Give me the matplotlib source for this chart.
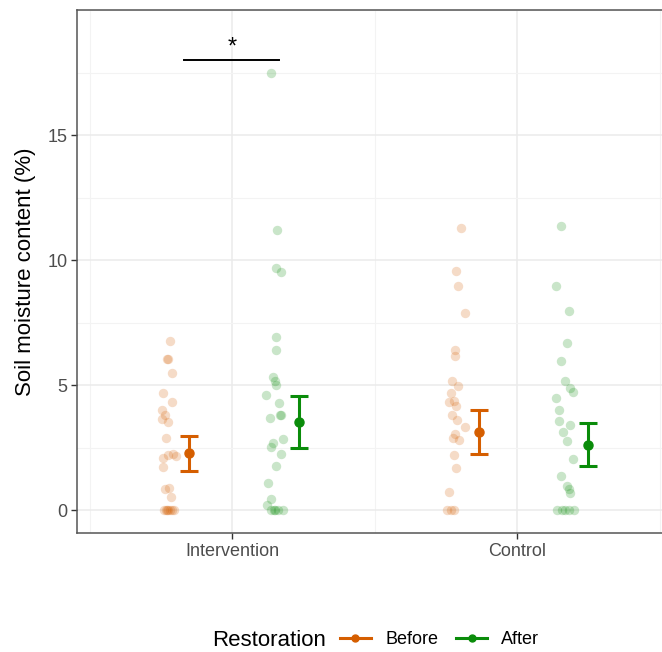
import matplotlib as mpl
mpl.use('Agg')
import matplotlib.pyplot as plt
from matplotlib.lines import Line2D
from matplotlib.ticker import MultipleLocator

plt.rcParams['font.family'] = ['Liberation Sans', 'DejaVu Sans']

# soil moisture (%) per plot, split by site and restoration period
int_before = [6.77, 6.05, 6.05, 5.51, 4.71, 4.33, 4.03, 3.80, 3.64, 3.53, 2.91, 2.23, 2.27,
              2.17, 2.09, 1.73, 0.87, 0.89, 0.53, 0, 0, 0, 0, 0, 0, 0]
int_after = [17.47, 11.20, 9.69, 9.53, 6.93, 6.43, 5.33, 5.16, 5.03, 4.60, 4.31, 3.71, 3.80,
             3.80, 2.84, 2.69, 2.53, 2.27, 1.76, 1.09, 0.47, 0.20, 0, 0, 0, 0, 0]
ctl_before = [11.29, 9.57, 8.97, 7.91, 6.40, 6.17, 5.17, 4.96, 4.69, 4.33, 4.37, 4.17, 3.80,
              3.63, 3.33, 3.07, 2.89, 2.80, 2.23, 1.69, 0.73, 0, 0, 0]
ctl_after = [11.37, 8.96, 7.96, 6.69, 5.96, 5.17, 4.89, 4.73, 4.51, 4.00, 3.57, 3.43, 3.13,
             2.77, 2.04, 1.37, 0.96, 0.85, 0.71, 0, 0, 0, 0, 0]

# horizontal jitter of each point (offset from the site position)
int_before_jit = [-0.218, -0.228, -0.226, -0.212, -0.241, -0.212, -0.245, -0.235, -0.245,
                  -0.224, -0.233, -0.224, -0.206, -0.196, -0.241, -0.241, -0.235, -0.221,
                  -0.214, -0.240, -0.233, -0.226, -0.219, -0.212, -0.204, -0.230]
int_after_jit = [0.136, 0.157, 0.154, 0.171, 0.154, 0.154, 0.143, 0.151, 0.154, 0.119, 0.166,
                 0.133, 0.171, 0.168, 0.178, 0.143, 0.136, 0.172, 0.153, 0.127, 0.136, 0.122,
                 0.136, 0.147, 0.161, 0.178, 0.150]
ctl_before_jit = [-0.198, -0.215, -0.209, -0.182, -0.218, -0.218, -0.229, -0.209, -0.233,
                  -0.241, -0.221, -0.214, -0.229, -0.212, -0.182, -0.218, -0.224, -0.204,
                  -0.221, -0.214, -0.239, -0.247, -0.233, -0.221]
ctl_after_jit = [0.153, 0.137, 0.180, 0.176, 0.154, 0.166, 0.184, 0.195, 0.136, 0.148, 0.147,
                 0.186, 0.162, 0.174, 0.195, 0.153, 0.174, 0.182, 0.186, 0.139, 0.157, 0.168,
                 0.180, 0.198]

# group means with error bar limits
means = [2.30, 3.55, 3.13, 2.63]
err_low = [1.58, 2.51, 2.25, 1.78]
err_high = [2.98, 4.58, 4.02, 3.49]

sites = ["Intervention", "Control"]
periods = ["Before", "After"]
y_ticks = [0, 5, 10, 15]
sig_y = 18.0

col_before = "#D55E00"
col_after = "#0A8C0A"

fig = plt.figure(figsize=(6.62, 6.52), dpi=100)
ax = fig.add_axes([77 / 662, 119 / 652, 590 / 662, 523 / 652])

groups = [
    (1, int_before, int_before_jit, col_before),
    (1, int_after, int_after_jit, col_after),
    (2, ctl_before, ctl_before_jit, col_before),
    (2, ctl_after, ctl_after_jit, col_after),
]
for xpos, vals, jit, col in groups:
    ax.scatter([xpos + j for j in jit], vals, s=46, color=col, alpha=0.22,
               linewidths=0, zorder=3)

mean_x = [1 - 0.151, 1 + 0.233, 2 - 0.133, 2 + 0.248]
mean_cols = [col_before, col_after, col_before, col_after]
for mx, m, lo, hi, col in zip(mean_x, means, err_low, err_high, mean_cols):
    ax.errorbar(mx, m, yerr=[[m - lo], [hi - m]], fmt='o', color=col, ms=6.5,
                elinewidth=2.2, capsize=6.5, capthick=2.2, zorder=4)

# significance bracket over the intervention site
ax.plot([0.83, 1.163], [sig_y, sig_y], color='black', lw=1.4, zorder=5)
ax.text(1.0, sig_y + 0.5, "*", ha='center', va='center', fontsize=17, color='black')

ax.set_xlim(0.456, 2.525)
ax.set_ylim(-0.9, 20.0)
ax.set_xticks([1, 2])
ax.set_xticklabels(sites)
ax.set_yticks(y_ticks)
ax.xaxis.set_minor_locator(MultipleLocator(0.5))
ax.yaxis.set_minor_locator(MultipleLocator(2.5))
ax.grid(which='major', color='#EBEBEB', lw=1.1, zorder=0)
ax.grid(which='minor', color='#F3F3F3', lw=0.8, zorder=0)
ax.set_axisbelow(True)
ax.tick_params(which='major', length=4, width=1, color='#333333', labelcolor='#4D4D4D',
               labelsize=13, pad=3)
ax.tick_params(which='minor', length=0)
for side in ['left', 'bottom', 'top']:
    ax.spines[side].set_color('#555555')
    ax.spines[side].set_linewidth(1.1)
ax.spines['right'].set_visible(False)
ax.set_ylabel("Soil moisture content (%)", fontsize=16, labelpad=8)

# legend at the bottom: title on the left, keys to its right
fig.text(212 / 662, 12 / 652, "Restoration", fontsize=16, ha='left', va='center')
handles = [Line2D([0], [0], color=col_before, lw=2.2, marker='o', ms=5),
           Line2D([0], [0], color=col_after, lw=2.2, marker='o', ms=5)]
fig.legend(handles, periods, loc='center left', bbox_to_anchor=(340 / 662, 12 / 652),
           ncol=2, frameon=False, fontsize=13, handlelength=1.7, handletextpad=0.8,
           columnspacing=1.0, borderpad=0, borderaxespad=0)

fig.savefig("out.png", dpi=100)
